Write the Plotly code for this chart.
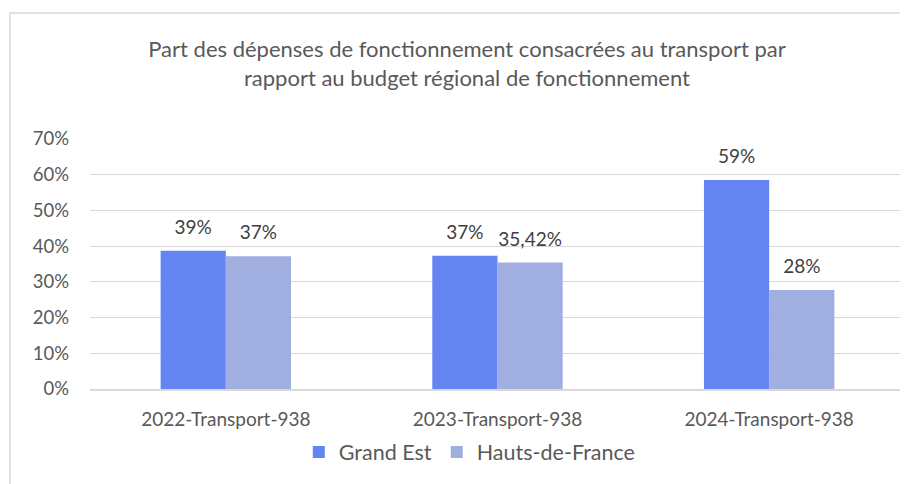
import plotly.graph_objects as go

categories = ["2022-Transport-938", "2023-Transport-938", "2024-Transport-938"]
grand_est = [0.387, 0.373, 0.585]
hauts_de_france = [0.372, 0.3542, 0.277]
grand_est_labels = ["39%", "37%", "59%"]
hdf_labels = ["37%", "35,42%", "28%"]
y_ticks = [0, 0.1, 0.2, 0.3, 0.4, 0.5, 0.6, 0.7]
y_tick_labels = ["0%", "10%", "20%", "30%", "40%", "50%", "60%", "70%"]

FONT = "Lato"
TXT = "#595959"
GAP = 0.52

fig = go.Figure()
for name, vals, labels, color in [
    ("Grand Est", grand_est, grand_est_labels, "#6484F2"),
    ("Hauts-de-France", hauts_de_france, hdf_labels, "#A0AEE0"),
]:
    fig.add_trace(go.Bar(
        name=name, x=categories, y=vals,
        marker=dict(color=color, line=dict(width=0)),
        hoverinfo="skip",
    ))
for name, vals, labels in [
    ("Grand Est", grand_est, grand_est_labels),
    ("Hauts-de-France", hauts_de_france, hdf_labels),
]:
    fig.add_trace(go.Scatter(
        name=name, x=categories, y=vals, mode="markers+text",
        text=labels, textposition="top center", cliponaxis=False,
        textfont=dict(family=FONT, size=19, color="#404040"),
        marker=dict(size=18, opacity=0),
        showlegend=False, hoverinfo="skip",
    ))

fig.update_layout(
    width=908, height=484,
    margin=dict(l=82, r=11, t=131, b=103),
    paper_bgcolor="white", plot_bgcolor="white",
    barmode="group", bargap=GAP, bargroupgap=0,
    scattermode="group", scattergap=GAP,
    font=dict(family=FONT, size=18, color=TXT),
    title=dict(
        text="Part des dépenses de fonctionnement consacrées au transport par<br>rapport au budget régional de fonctionnement",
        x=0.5055, xanchor="center", y=0.898, yanchor="middle",
        font=dict(family=FONT, size=22, color=TXT),
    ),
    xaxis=dict(showgrid=False, showline=True, linecolor="#D9D9D9", linewidth=1.5,
               ticks="", ticklabelstandoff=12,
               tickfont=dict(family=FONT, size=19, color=TXT)),
    yaxis=dict(range=[0, 0.7], tickvals=y_ticks, ticktext=y_tick_labels,
               showgrid=True, gridcolor="#D9D9D9", gridwidth=1.3,
               zeroline=False, showline=False, ticks="",
               ticklabelstandoff=20,
               tickfont=dict(family=FONT, size=18.5, color=TXT)),
    legend=dict(orientation="h", x=0.466, xanchor="center", y=-0.252, yanchor="middle",
                font=dict(family=FONT, size=21.5, color=TXT), itemwidth=30,
                traceorder="normal"),
    showlegend=True,
    shapes=[dict(type="rect", xref="paper", yref="paper",
                 x0=-0.0982, x1=1.016, y0=-0.6, y1=1.504,
                 line=dict(color="#D9D9D9", width=1.5), layer="below")],
)

fig.write_html("out.html")
